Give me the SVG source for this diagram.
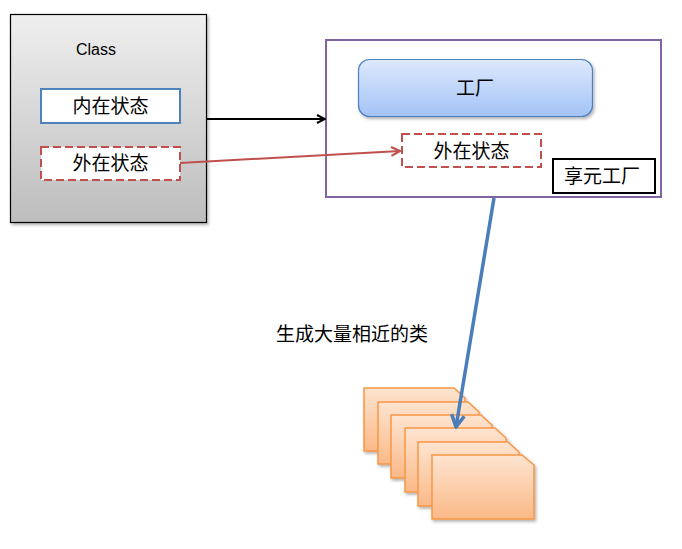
<svg xmlns="http://www.w3.org/2000/svg" width="682" height="549" viewBox="0 0 682 549">
<defs>
<linearGradient id="gGray" x1="0" y1="0" x2="0" y2="1"><stop offset="0" stop-color="#efefef"/><stop offset="1" stop-color="#bdbdbd"/></linearGradient>
<linearGradient id="gBlue" x1="0" y1="0" x2="0" y2="1"><stop offset="0" stop-color="#dde9fc"/><stop offset="1" stop-color="#a3c3f7"/></linearGradient>
<linearGradient id="gOrange" x1="0" y1="0" x2="0" y2="1"><stop offset="0" stop-color="#fde4d0"/><stop offset="1" stop-color="#fbb988"/></linearGradient>
<filter id="sh" x="-10%" y="-10%" width="130%" height="130%"><feDropShadow dx="1.5" dy="2" stdDeviation="1.5" flood-color="#000" flood-opacity="0.3"/></filter>
<marker id="mBlack" viewBox="0 0 10 10" refX="9" refY="5" markerWidth="10" markerHeight="10" markerUnits="userSpaceOnUse" orient="auto"><path d="M1,1 L9,5 L1,9" fill="none" stroke="#000" stroke-width="2"/></marker>
<marker id="mRed" viewBox="0 0 10 10" refX="9" refY="5" markerWidth="11" markerHeight="11" markerUnits="userSpaceOnUse" orient="auto"><path d="M1,1 L9,5 L1,9" fill="none" stroke="#c0504d" stroke-width="2"/></marker>
<marker id="mBlue" viewBox="0 0 10 10" refX="9" refY="5" markerWidth="16" markerHeight="16" markerUnits="userSpaceOnUse" orient="auto"><path d="M1.5,1 L9,5 L1.5,9" fill="none" stroke="#4a7ebb" stroke-width="2.2"/></marker>
</defs>
<style>
text{font-family:"Liberation Sans","Noto Sans CJK SC",sans-serif;fill:#000;dominant-baseline:central;text-anchor:middle}
.cn{font-size:19px}
.card{fill:url(#gOrange);stroke:#f79646;stroke-width:1.5}
</style>
<rect width="682" height="549" fill="#fff"/>
<g id="class">
<rect x="10.5" y="14.5" width="196" height="208" fill="url(#gGray)" stroke="#000" stroke-width="1.2" filter="url(#sh)"/>
<text x="96" y="49" style="font-size:16px">Class</text>
</g>
<g id="intrinsic">
<rect x="41" y="89" width="139" height="34" fill="#fff" stroke="#4f81bd" stroke-width="2"/>
<text class="cn" x="110.5" y="106">内在状态</text>
</g>
<g id="extrinsic-left">
<rect x="41" y="147" width="139" height="33" fill="#fff" stroke="#c0504d" stroke-width="2" stroke-dasharray="8,4"/>
<text class="cn" x="110.5" y="163">外在状态</text>
</g>
<g id="flyweight-factory">
<rect x="326" y="40" width="335" height="157" fill="#fff" stroke="#8064a2" stroke-width="2"/>
</g>
<g id="factory">
<rect x="358.5" y="59.5" width="234" height="57" rx="11" fill="url(#gBlue)" stroke="#4f81bd" stroke-width="1.2" filter="url(#sh)"/>
<text class="cn" x="475" y="88">工厂</text>
</g>
<g id="extrinsic-right">
<rect x="402" y="134" width="139" height="33" fill="#fff" stroke="#c0504d" stroke-width="2" stroke-dasharray="8,4"/>
<text class="cn" x="471.5" y="151">外在状态</text>
</g>
<g id="flyweight-label">
<rect x="553" y="159" width="102" height="34" fill="#fff" stroke="#000" stroke-width="2"/>
<text class="cn" x="602" y="176.5">享元工厂</text>
</g>
<g id="cards" filter="url(#sh)">
<path class="card" d="M364,388 H454 L465,398 V451 H364 Z"/>
<path class="card" d="M378,402 H468 L479,412 V464 H378 Z"/>
<path class="card" d="M391,415 H481 L492,425 V478 H391 Z"/>
<path class="card" d="M405,428 H495 L506,438 V492 H405 Z"/>
<path class="card" d="M418,442 H508 L519,452 V506 H418 Z"/>
<path class="card" d="M432,455 H522 L534,465 V519 H432 Z"/>
</g>
<g id="caption">
<text class="cn" x="352" y="334">生成大量相近的类</text>
</g>
<g id="connectors" fill="none">
<line x1="206" y1="119" x2="325" y2="119" stroke="#000" stroke-width="2" marker-end="url(#mBlack)"/>
<line x1="180" y1="163" x2="400" y2="151" stroke="#c0504d" stroke-width="2" marker-end="url(#mRed)"/>
<line x1="494" y1="198" x2="456" y2="427" stroke="#4a7ebb" stroke-width="3.5" marker-end="url(#mBlue)"/>
</g>
</svg>
